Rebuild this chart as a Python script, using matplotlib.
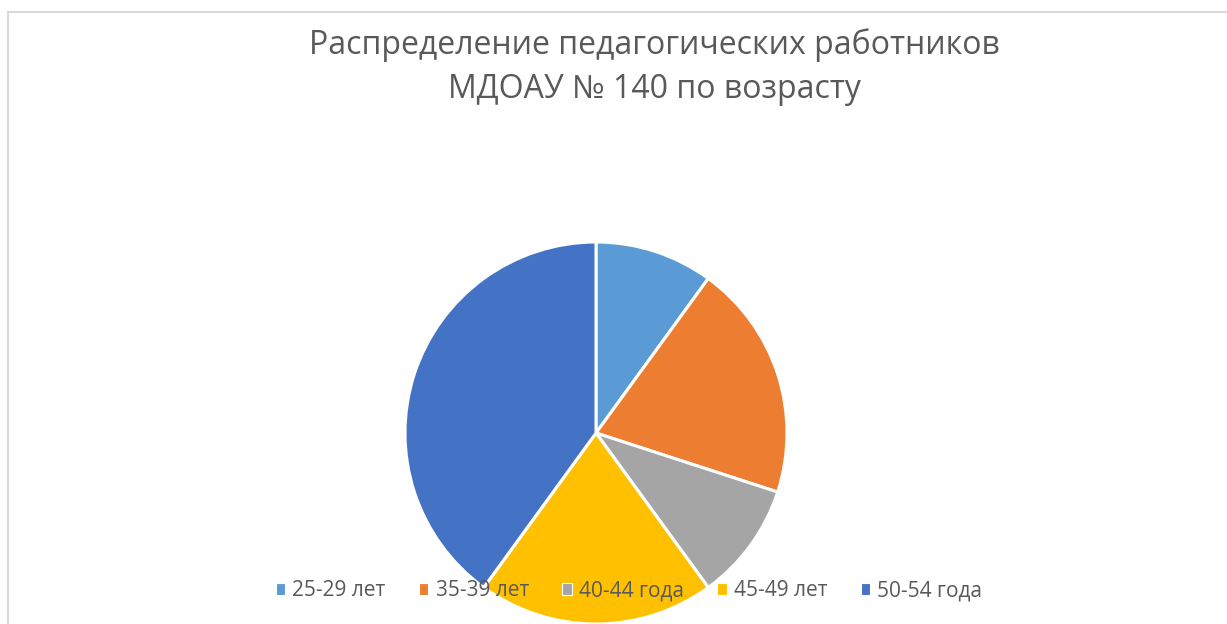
import matplotlib.pyplot as plt
from matplotlib.lines import Line2D

plt.rcParams['font.family'] = ['Open Sans', 'DejaVu Sans']

# age groups and share of staff
labels = ['25-29 лет', '35-39 лет', '40-44 года', '45-49 лет', '50-54 года']
values = [1, 2, 1, 2, 4]
colors = ['#5B9BD5', '#ED7D31', '#A5A5A5', '#FFC000', '#4472C4']

W, H = 1227, 624
fig = plt.figure(figsize=(W / 100, H / 100), dpi=100)

# chart frame (only top and left edges visible in the crop)
fig.add_artist(Line2D([8 / W, 8 / W], [0, 1 - 12 / H], color='#d9d9d9', lw=1.5))
fig.add_artist(Line2D([8 / W, 1], [1 - 12 / H, 1 - 12 / H], color='#d9d9d9', lw=1.5))

# pie
cx, cy, r = 596, 433, 191
ax = fig.add_axes([(cx - r) / W, (H - cy - r) / H, 2 * r / W, 2 * r / H])
wedges, _ = ax.pie(values, colors=colors, startangle=90, counterclock=False,
                   radius=1, wedgeprops=dict(edgecolor='white', linewidth=2.2))
for w in wedges:
    w.set_clip_on(False)
ax.set_xlim(-1, 1)
ax.set_ylim(-1, 1)
ax.set_aspect('equal')
ax.axis('off')

# title
fig.text(654 / W, 1 - 45 / H, 'Распределение педагогических работников',
         ha='center', va='center', fontsize=23, color='#595959')
fig.text(654 / W, 1 - 89 / H, 'МДОАУ № 140 по возрасту',
         ha='center', va='center', fontsize=23, color='#595959')

# legend
leg = fig.legend(wedges, labels, loc='center', bbox_to_anchor=(629 / W, 1 - 591 / H),
                 ncol=5, frameon=False, fontsize=15, handlelength=0.45,
                 handleheight=0.45, handletextpad=0.35, columnspacing=1.6,
                 labelcolor='#595959')
for h in leg.legend_handles:
    h.set_linewidth(0.8)

fig.savefig('out.png', dpi=100)
